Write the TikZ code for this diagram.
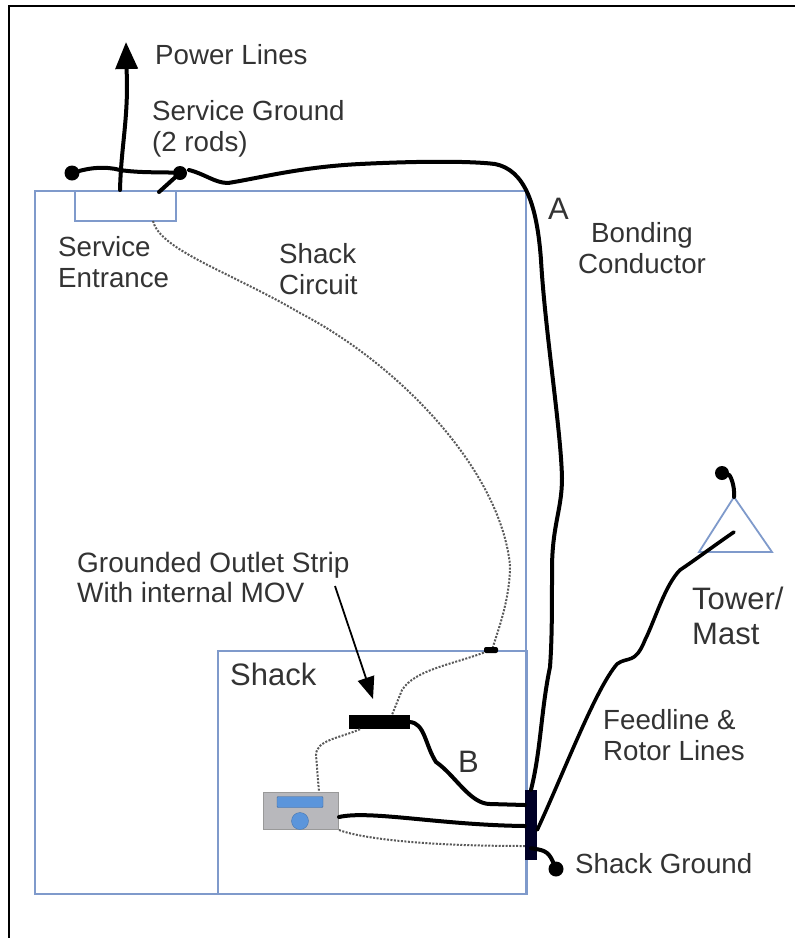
\documentclass[tikz,border=0pt]{standalone}
\usepackage{fontspec}
\setmainfont{Liberation Sans}
\usetikzlibrary{arrows.meta,calc,positioning}
\definecolor{wallblue}{HTML}{7F9ACB}
\definecolor{labelgray}{HTML}{333333}
\definecolor{radiogray}{HTML}{B8B8BC}
\definecolor{radioblue}{HTML}{5B95DB}

\begin{document}
\begin{tikzpicture}[
  x=1pt,y=-1pt,
  >=Stealth,
  txt/.style={font=\fontsize{27.7}{31}\selectfont,text=labelgray,align=left,inner sep=0pt,anchor=west},
  bigtxt/.style={font=\fontsize{31}{35}\selectfont,text=labelgray,align=left,inner sep=0pt,anchor=west},
  wall/.style={draw=wallblue,line width=2pt,inner sep=0pt},
  wire/.style={draw=black,line width=4pt,line cap=round,line join=round},
  circuit/.style={draw=black!65,line width=2pt,dash pattern=on 2pt off 1.5pt},
  rod/.style={circle,fill=black,inner sep=0pt,minimum size=14pt},
  busbar/.style={fill=black,inner sep=0pt}
]
\useasboundingbox (0,0) rectangle (795,938);
\draw[black,line width=2pt] (9,938) |- (795,6);

% walls
\node[wall,minimum width=491pt,minimum height=703pt,anchor=north west] (house) at (34,190) {};
\node[wall,minimum width=309pt,minimum height=243pt,anchor=north west] (shack) at (217,650) {};
\node[wall,minimum width=101pt,minimum height=30pt,anchor=north west] (entrance) at (74,190) {};
\coordinate (mastA) at (734,497);
\coordinate (mastB) at (772,552);
\coordinate (mastC) at (699,552);
\draw[draw=wallblue,line width=1.8pt] (mastA) -- (mastB) -- (mastC) -- cycle;

% equipment
\node[rod,minimum size=15pt] (rodA) at (72,173) {};
\node[rod] (rodB) at (180,173) {};
\node[rod,minimum size=15pt] (rodC) at (556,869) {};
\node[rod] (rodD) at (722,473) {};
\node[busbar,minimum width=61pt,minimum height=14pt] (strip) at (379,722) {};
\node[busbar,fill=black!85!blue,minimum width=12pt,minimum height=70pt] (bus) at (531,825) {};
\node[draw=black!40,fill=radiogray,line width=1pt,minimum width=75pt,minimum height=37pt,inner sep=0pt] (radio) at (301,811) {};
\node[draw=radioblue!70!black,fill=radioblue,rounded corners=1pt,minimum width=46pt,minimum height=11pt,inner sep=0pt] (dial) at (300,802) {};
\node[circle,draw=radioblue!80!black,fill=radioblue,minimum size=17pt,inner sep=0pt] (knob) at (300,821) {};

% connectors
\coordinate (entTop) at (120,190);
\coordinate (entTap) at (159,192);
\coordinate (entDrop) at (153,221);
\draw[wire,-{Triangle[length=27pt,width=22pt]}] (entTop) .. controls (121,150) and (127,125) .. (127,85) -- (126,42);
\draw[wire] (rodA) .. controls (90,168) and (105,166) .. (120,170) .. controls (140,173) and (160,172) .. (rodB);
\draw[wire] (entTap) -- (rodB);
\draw[wire] (189,170) .. controls (205,174) and (215,183) .. (228,183) .. controls (260,178) and (300,167) .. (360,164) .. controls (420,161) and (470,161) .. (495,164) .. controls (525,170) and (537,205) .. (541,260) .. controls (545,330) and (561,430) .. (562,478) .. controls (562,510) and (552,525) .. (552,570) .. controls (552,610) and (552,640) .. (550,667) .. controls (541,710) and (541,750) .. (bus.north);
\draw[wire] (bus.south) ++(0,-12) coordinate (busLow) .. controls (542,850) and (548,850) .. (rodC);
\draw[wire] (strip.east) .. controls (425,723) and (425,745) .. (436,762) .. controls (455,775) and (470,804) .. (490,804) -- (bus.west |- 0,805);
\draw[wire] (radio.east |- 0,817) .. controls (370,810) and (440,825) .. (bus.west |- 0,826);
\draw[wire,line width=3.6pt] (bus.east |- 0,830) .. controls (565,770) and (595,690) .. (617,664) .. controls (628,656) and (635,665) .. (645,640) .. controls (655,620) and (665,585) .. (680,570) .. controls (695,560) and (715,545) .. (734,532);
\draw[wire] (rodD) .. controls (730,475) and (735,485) .. (mastA);
\draw[circuit] (entDrop) .. controls (160,250) and (230,272) .. (300,313) .. controls (400,365) and (500,470) .. (510,565) .. controls (510,600) and (498,630) .. (492,650);
\node[busbar,minimum width=14pt,minimum height=6pt,rounded corners=2pt] (splice) at (491,650) {};
\draw[circuit] (splice) .. controls (450,665) and (415,670) .. (402,690) -- (strip.north -| 392,0);
\draw[circuit] (strip.south -| 360,0) .. controls (340,738) and (316,740) .. (316,755) -- (radio.north -| 319,0);
\draw[circuit] (radio.south east) .. controls (360,838) and (420,846) .. (bus.west |- 0,846);
\coordinate (stripLabel) at (335,586);
\draw[black,line width=1.8pt,-{Triangle[length=22pt,width=17pt]}] (stripLabel) -- (373,699);

% labels
\node[txt] (power) at (155,55) {Power Lines};
\node[txt] (ground) at (152,129) {Service Ground\\(2 rods)};
\node[txt] (serviceLbl) at (58,262) {Service\\Entrance};
\node[txt] (circuitLbl) at (279,269) {Shack\\Circuit};
\node[bigtxt] (aLbl) at (548,209) {A};
\node[txt,align=center,anchor=center] (bondLbl) at (642,248) {Bonding\\Conductor};
\node[txt,font=\fontsize{28}{30}\selectfont] (outletLbl) at (77,577) {Grounded Outlet Strip\\With internal MOV};
\node[bigtxt] (towerLbl) at (692,616) {Tower/\\Mast};
\node[bigtxt] (shackLbl) at (230,674) {Shack};
\node[txt] (feedLbl) at (603,735) {Feedline \&\\Rotor Lines};
\node[bigtxt] (bLbl) at (458,762) {B};
\node[txt] (groundLbl) at (575,864) {Shack Ground};
\end{tikzpicture}
\end{document}
